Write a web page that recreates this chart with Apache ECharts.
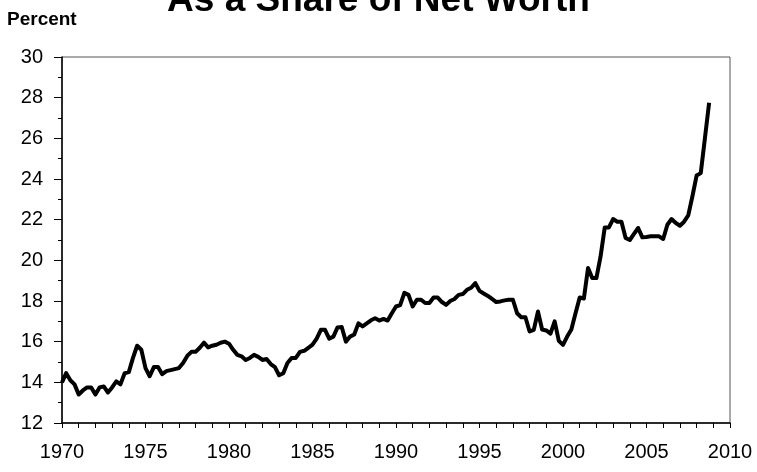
<!DOCTYPE html>
<html>
<head>
<meta charset="utf-8">
<script src="https://cdn.jsdelivr.net/npm/echarts@6/dist/echarts.min.js"></script>
<style>
  html, body { margin: 0; padding: 0; background: #fff; }
  #main { width: 757px; height: 472px; }
</style>
</head>
<body>
<div id="main"></div>
<script>
// quarterly, 1970Q1 .. 2008Q4, percent of net worth
var startYear = 1970
var shareValues = [
	14.0, 14.45, 14.1, 13.9,
	13.4, 13.6, 13.75, 13.75,
	13.4, 13.75, 13.8, 13.5,
	13.75, 14.05, 13.9, 14.45,
	14.5, 15.2, 15.8, 15.6,
	14.7, 14.3, 14.75, 14.75,
	14.4, 14.55, 14.6, 14.65,
	14.7, 14.95, 15.3, 15.5,
	15.5, 15.7, 15.95, 15.72,
	15.8, 15.85, 15.95, 16.0,
	15.9, 15.6, 15.35, 15.28,
	15.1, 15.2, 15.35, 15.25,
	15.1, 15.15, 14.9, 14.75,
	14.35, 14.45, 14.95, 15.2,
	15.2, 15.5, 15.55, 15.7,
	15.85, 16.15, 16.58, 16.58,
	16.15, 16.25, 16.7, 16.72,
	16.0, 16.25, 16.35, 16.9,
	16.75, 16.9, 17.05, 17.15,
	17.04, 17.12, 17.04, 17.4,
	17.73, 17.8, 18.4, 18.3,
	17.73, 18.06, 18.06, 17.9,
	17.9, 18.17, 18.17, 17.95,
	17.81, 18.0, 18.1, 18.3,
	18.34, 18.55, 18.65, 18.88,
	18.5, 18.37, 18.25, 18.1,
	17.95, 17.98, 18.03, 18.06,
	18.06, 17.4, 17.2, 17.2,
	16.5, 16.58, 17.48, 16.6,
	16.55, 16.4, 17.0, 16.04,
	15.84, 16.25, 16.6, 17.4,
	18.17, 18.12, 19.62, 19.13,
	19.13, 20.19, 21.62, 21.62,
	22.03, 21.9, 21.9, 21.1,
	21.0, 21.3, 21.59, 21.13,
	21.15, 21.18, 21.18, 21.18,
	21.05, 21.75, 22.03, 21.84,
	21.7, 21.9, 22.21, 23.15,
	24.17, 24.29, 26.02, 27.75
]
var titleText = 'As a Share of Net Worth'
var unitText = 'Percent'

var chart = echarts.init(document.getElementById('main'))
var fontFam = 'Liberation Sans, Arial, sans-serif'

var points = shareValues.map(function(v, i){
	return [startYear + i / 4, v]
})

chart.setOption({
	animation: false,
	backgroundColor: '#fff',
	title: [
		{
			text: titleText, left: 'center', top: -23,
			textStyle: { fontFamily: fontFam, fontSize: 37, fontWeight: 'bold', color: '#000' }
		},
		{
			text: unitText, left: 2, top: 5,
			textStyle: { fontFamily: fontFam, fontSize: 19, fontWeight: 'bold', color: '#000' }
		}
	],
	grid: {
		left: 62, right: 27, top: 57, bottom: 49,
		show: true, borderColor: '#555', borderWidth: 1, backgroundColor: 'transparent'
	},
	xAxis: {
		type: 'value', min: 1970, max: 2010, interval: 5,
		axisLine: { lineStyle: { color: '#000', width: 1.5 } },
		axisTick: { show: true, length: 5, lineStyle: { color: '#000' } },
		minorTick: { show: true, splitNumber: 5, length: 5, lineStyle: { color: '#000' } },
		splitLine: { show: false },
		axisLabel: {
			color: '#000', fontFamily: fontFam, fontSize: 20, margin: 19,
			formatter: function(v){ return String(v) }
		}
	},
	yAxis: {
		type: 'value', min: 12, max: 30, interval: 2,
		axisLine: { show: true, lineStyle: { color: '#000', width: 1.5 } },
		axisTick: { show: true, length: 8, lineStyle: { color: '#000' } },
		minorTick: { show: true, splitNumber: 2, length: 4, lineStyle: { color: '#000' } },
		splitLine: { show: false },
		axisLabel: { color: '#000', fontFamily: fontFam, fontSize: 20, margin: 19 }
	},
	series: [{
		type: 'line',
		data: points,
		showSymbol: false,
		lineStyle: { color: '#000', width: 4, join: 'round' }
	}]
})
</script>
</body>
</html>
